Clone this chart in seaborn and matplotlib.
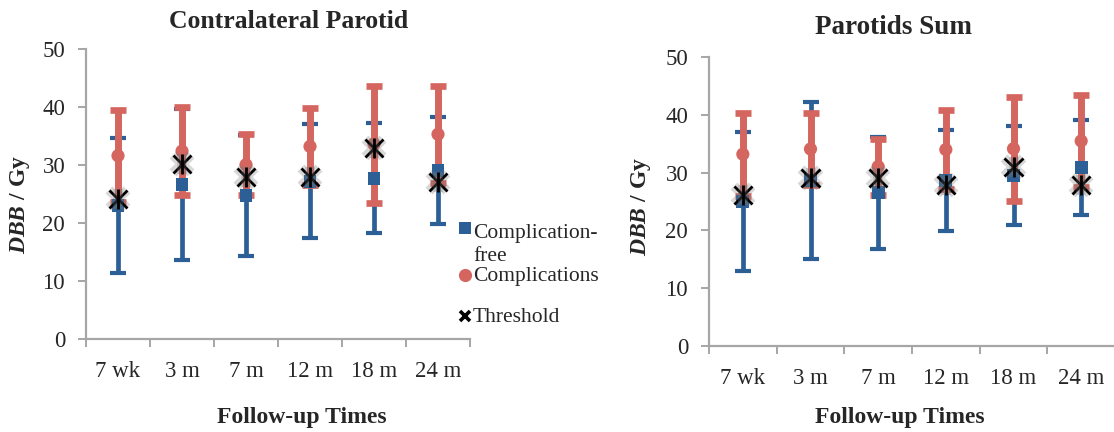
import matplotlib
matplotlib.use("Agg")
import matplotlib.pyplot as plt
import matplotlib.patheffects as pe
import numpy as np
import pandas as pd
import seaborn as sns

# Follow-up time points
times = ["7 wk", "3 m", "7 m", "12 m", "18 m", "24 m"]

# Contralateral parotid: mean and SD of DBB (Gy)
cp_free_mean = [23.0, 26.6, 24.7, 27.2, 27.7, 29.05]
cp_free_sd = [11.7, 13.0, 10.4, 9.8, 9.5, 9.25]
cp_comp_mean = [31.6, 32.4, 30.05, 33.2, 33.6, 35.3]
cp_comp_sd = [7.9, 7.6, 5.25, 6.6, 10.1, 8.4]
cp_threshold = [24.1, 30.2, 28.0, 28.0, 33.0, 27.1]

# Sum of both parotids
ps_free_mean = [25.0, 28.6, 26.5, 28.65, 29.55, 30.9]
ps_free_sd = [12.0, 13.6, 9.7, 8.75, 8.55, 8.2]
ps_comp_mean = [33.2, 34.1, 31.05, 34.0, 34.15, 35.5]
ps_comp_sd = [7.2, 6.2, 4.85, 6.8, 9.05, 7.9]
ps_threshold = [26.1, 29.0, 29.0, 27.9, 31.0, 27.9]

legend_labels = ["Complication-\nfree", "Complications", "Threshold"]

BLUE = "#2B5F96"
RED = "#D4665F"
AXIS_GRAY = "#A6A6A6"
SERIF = "Liberation Serif"

sns.set_theme(style="white")
plt.rcParams["font.family"] = [SERIF, "DejaVu Serif"]
plt.rcParams["mathtext.fontset"] = "custom"
plt.rcParams["mathtext.rm"] = SERIF
plt.rcParams["mathtext.bf"] = f"{SERIF}:bold"
plt.rcParams["mathtext.it"] = f"{SERIF}:italic"
plt.rcParams["mathtext.bfit"] = f"{SERIF}:bold:italic"

W, H = 1114, 432
fig = plt.figure(figsize=(W / 100, H / 100), dpi=100)
ax1 = fig.add_axes([86 / W, 1 - 339 / H, 384 / W, 290 / H])
ax2 = fig.add_axes([709 / W, 1 - 345.7 / H, 406 / W, 288.4 / H])

glow = [pe.withStroke(linewidth=7, foreground=(0.45, 0.45, 0.45, 0.28))]


def star(ax, x, y, **kw):
    """Threshold marker: an x crossed by a vertical bar."""
    for mk, ms in (("x", 13), ("|", 14.5)):
        ax.plot(x, y, linestyle="none", marker=mk, markersize=ms,
                markeredgewidth=2.0, color="black", **kw)


def panel(ax, free_m, free_s, comp_m, comp_s, thr):
    df = pd.DataFrame({
        "time": times,
        "pos": np.arange(len(times)),
        "free_m": free_m, "free_s": free_s,
        "comp_m": comp_m, "comp_s": comp_s,
        "thr": thr,
    })
    # error bars: complication-free underneath, complications above
    ax.errorbar(df["pos"], df["free_m"], yerr=df["free_s"], fmt="none",
                ecolor=BLUE, elinewidth=3.4, capsize=6, capthick=3, zorder=2)
    ax.errorbar(df["pos"], df["comp_m"], yerr=df["comp_s"], fmt="none",
                ecolor=RED, elinewidth=5, capsize=6, capthick=4.8, zorder=3)
    # group means
    sns.scatterplot(data=df, x="pos", y="comp_m", ax=ax, marker="o", s=90,
                    color=RED, edgecolor="none", zorder=4, legend=False)
    sns.scatterplot(data=df, x="pos", y="free_m", ax=ax, marker="s", s=85,
                    color=BLUE, edgecolor="none", zorder=5, legend=False)
    star(ax, df["pos"], df["thr"], zorder=6, path_effects=glow)

    ax.set_xlim(-0.5, len(times) - 0.5)
    ax.set_ylim(0, 50)
    ax.set_yticks(range(0, 51, 10))
    ax.set_xticks(np.arange(len(times)))
    ax.set_xticklabels(times)
    ax.set_xticks(np.arange(len(times) + 1) - 0.5, minor=True)
    ax.set_xlabel("")
    ax.set_ylabel("")
    for side in ("top", "right"):
        ax.spines[side].set_visible(False)
    for side in ("left", "bottom"):
        ax.spines[side].set_color(AXIS_GRAY)
        ax.spines[side].set_linewidth(1.6)
    ax.tick_params(axis="y", which="major", direction="out", length=6,
                   width=1.4, color=AXIS_GRAY, labelsize=16.5, pad=9,
                   left=True)
    ax.tick_params(axis="x", which="major", length=0, labelsize=16.5, pad=16)
    ax.tick_params(axis="x", which="minor", direction="out", length=6,
                   width=1.4, color=AXIS_GRAY, bottom=True)
    ax.set_facecolor("white")


panel(ax1, cp_free_mean, cp_free_sd, cp_comp_mean, cp_comp_sd, cp_threshold)
panel(ax2, ps_free_mean, ps_free_sd, ps_comp_mean, ps_comp_sd, ps_threshold)

# titles and axis labels
fig.text(289 / W, 1 - 22 / H, "Contralateral Parotid", ha="center",
         va="center", fontsize=18.5, fontweight="bold")
fig.text(893 / W, 1 - 28 / H, "Parotids Sum", ha="center", va="center",
         fontsize=19.5, fontweight="bold")
for xc in (302, 900):
    fig.text(xc / W, 1 - 417 / H, "Follow-up Times", ha="center",
             va="center", fontsize=17, fontweight="bold")
ylab = r"$\mathbfit{DBB}$ / Gy"
fig.text(20 / W, 1 - 204 / H, ylab, rotation=90, ha="center", va="center",
         fontsize=17, fontweight="bold")
fig.text(641 / W, 1 - 206 / H, ylab, rotation=90, ha="center", va="center",
         fontsize=17, fontweight="bold")

# legend, placed to the right of the first panel (pixel coordinates)
leg = fig.add_axes([0, 0, 1, 1], zorder=10)
leg.set_xlim(0, W)
leg.set_ylim(H, 0)
leg.axis("off")
leg.patch.set_alpha(0)
key_x, text_x = 465, 473
leg.plot([key_x], [228], linestyle="none", marker="s", markersize=8.5,
         color=BLUE, markeredgewidth=0)
leg.plot([key_x], [275], linestyle="none", marker="o", markersize=9.5,
         color=RED, markeredgewidth=0)
leg.plot([key_x], [316], linestyle="none", marker="x", markersize=6.5,
         color="black", markeredgewidth=2.6)
for (yc, lab) in zip((245, 277, 318), legend_labels):
    leg.text(text_x, yc, lab, ha="left", va="center", fontsize=15.5,
             linespacing=1.3)

fig.savefig("out.png", dpi=100, facecolor="white")
